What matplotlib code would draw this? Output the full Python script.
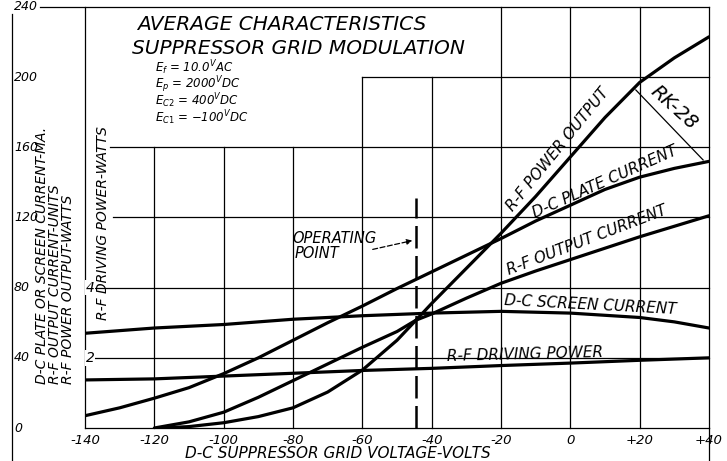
import numpy as np
import matplotlib
matplotlib.use("Agg")
import matplotlib.pyplot as plt

# --- data ---
# D-C plate current, ma
plate_v = [-140, -130, -120, -110, -100, -90, -80, -70, -60, -50, -40, -30, -20, -10, 0, 10, 20, 30, 40]
plate_ma = [7, 11.5, 17, 23, 31, 40, 50, 60, 69.5, 79.5, 89, 98.5, 108, 118, 127, 136, 143, 148, 152]

# R-F output current, units
rfi_v = [-120, -110, -100, -90, -80, -70, -60, -50, -44.5, -40, -30, -20, -10, 0, 10, 20, 30, 40]
rfi_units = [0, 3.5, 9, 17.5, 27, 36.5, 46, 55, 61.5, 65, 74, 82.5, 89.5, 96, 102.5, 109, 115, 121]

# R-F power output, watts
pwr_v = [-118, -110, -100, -90, -80, -70, -60, -50, -44.5, -40, -30, -20, -10, 0, 10, 20, 30, 40]
pwr_watts = [0, 0.8, 3, 6.5, 11.5, 20.5, 33, 50, 61.5, 71, 91, 111, 132, 154.5, 177, 197, 211, 223]

# D-C screen current, ma
scr_v = [-140, -120, -100, -80, -60, -40, -20, 0, 20, 30, 40]
scr_ma = [54, 57, 59, 62, 64, 65.5, 66.5, 65.5, 63, 60.5, 57]

# R-F driving power, watts (right hand scale, 2 W = 40 units)
drv_v = [-140, -120, -100, -80, -60, -40, -20, 0, 20, 40]
drv_watts = [1.37, 1.4, 1.48, 1.56, 1.64, 1.7, 1.78, 1.85, 1.93, 2.0]

op_point = -44.5

x_ticks = [-140, -120, -100, -80, -60, -40, -20, 0, 20, 40]
x_ticklabels = ["-140", "-120", "-100", "-80", "-60", "-40", "-20", "0", "+20", "+40"]
y_ticks = [0, 40, 80, 120, 160, 200, 240]
drv_ticks = [2, 4]

params = [r"$E_f$ = 10.0$^V$AC", r"$E_p$ = 2000$^V$DC",
          r"$E_{C2}$ = 400$^V$DC", r"$E_{C1}$ = $-$100$^V$DC"]

W, H = 727, 461


def px(x, y):
    # pixel position of the reference -> data coords
    return -140 + (x - 85) * 180 / 624, (428 - y) * 240 / 421


plt.rcParams['font.family'] = ['DejaVu Sans']
fig = plt.figure(figsize=(W / 100, H / 100), dpi=100)
ax = fig.add_axes([85 / W, 33 / H, 624 / W, 421 / H])
ax.set_xlim(-140, 40)
ax.set_ylim(0, 240)
ax.axis('off')

ital = dict(style='italic', color='black')
glw = 0.9

# grid, with the cut-out for the title block
for v in x_ticks:
    if v in (-120, -100, -80):
        top = 160
    elif v in (-60, -40):
        top = 200
    else:
        top = 240
    ax.plot([v, v], [0, top], color='black', lw=glw, clip_on=False)
ax.plot([40, 40], [0, px(0, 461)[1]], color='black', lw=glw, clip_on=False)

starts = {0: -140, 40: px(95, 0)[0], 80: px(95, 0)[0], 120: px(113, 0)[0],
          160: px(110, 0)[0], 200: -60, 240: px(40, 0)[0]}
for yv, x0 in starts.items():
    ax.plot([x0, 40], [yv, yv], color='black', lw=glw, clip_on=False)

# far left axis line
lx = px(12, 0)[0]
ax.plot([lx, lx], [px(0, 461)[1], px(0, 14)[1]], color='black', lw=glw, clip_on=False)

# curves
clw = 2.3
ax.plot(plate_v, plate_ma, color='black', lw=clw, solid_capstyle='round', solid_joinstyle='round')
ax.plot(rfi_v, rfi_units, color='black', lw=clw, solid_capstyle='round', solid_joinstyle='round')
ax.plot(pwr_v, pwr_watts, color='black', lw=clw, solid_capstyle='round', solid_joinstyle='round')
ax.plot(scr_v, scr_ma, color='black', lw=clw, solid_capstyle='round', solid_joinstyle='round')
ax.plot(drv_v, np.array(drv_watts) * 20, color='black', lw=clw, solid_capstyle='round',
        solid_joinstyle='round')

# operating point
ax.plot([op_point, op_point], [0, 131], color='black', lw=1.8, dashes=(9, 3))
ax.annotate("", xy=px(415, 240), xytext=px(370, 250),
            arrowprops=dict(arrowstyle='-|>', color='black', lw=0.9, linestyle=(0, (4, 2)),
                            mutation_scale=8))
ax.text(*px(292, 238), "OPERATING", fontsize=10.5, ha='left', va='center', **ital)
ax.text(*px(295, 253), "POINT", fontsize=10.5, ha='left', va='center', **ital)

# tick labels
for v, lab in zip(x_ticks, x_ticklabels):
    ax.text(v, px(0, 440)[1], lab, fontsize=9.5, ha='center', va='center', clip_on=False, **ital)
for yv in y_ticks:
    ax.text(px(14, 0)[0], yv, str(yv), fontsize=9, ha='left', va='center', clip_on=False, **ital)
for w in drv_ticks:
    ax.text(px(90, 0)[0], w * 20, str(w), fontsize=10, ha='center', va='center',
            bbox=dict(facecolor='white', edgecolor='none', pad=0.5), **ital)

# axis titles
ax.text(*px(338, 453), "D-C SUPPRESSOR GRID VOLTAGE-VOLTS", fontsize=11,
        ha='center', va='center', clip_on=False, **ital)
for xp, lab in [(42, "D-C PLATE OR SCREEN CURRENT-MA."),
                (55, "R-F OUTPUT CURRENT-UNITS"),
                (68, "R-F POWER OUTPUT-WATTS")]:
    ax.text(*px(xp, 384), lab, rotation=90, fontsize=10, ha='center', va='bottom',
            clip_on=False, **ital)
ax.text(*px(103, 320), "R-F DRIVING POWER-WATTS", rotation=90, fontsize=10,
        ha='center', va='bottom', **ital)

# title block
ax.text(*px(137, 24), "AVERAGE CHARACTERISTICS", fontsize=14.5, ha='left', va='center', **ital)
ax.text(*px(132, 48), "SUPPRESSOR GRID MODULATION", fontsize=14.5, ha='left', va='center', **ital)
for i, p in enumerate(params):
    ax.text(*px(155, 68 + i * 16.5), p, fontsize=8.5, ha='left', va='center', **ital)

# curve labels
ax.text(*px(558, 150), "R-F POWER OUTPUT", rotation=51, fontsize=11,
        ha='center', va='center', rotation_mode='anchor', **ital)
ax.text(*px(605, 182), "D-C PLATE CURRENT", rotation=24, fontsize=11,
        ha='center', va='center', rotation_mode='anchor', **ital)
ax.text(*px(587, 240), "R-F OUTPUT CURRENT", rotation=21, fontsize=11,
        ha='center', va='center', rotation_mode='anchor', **ital)
ax.text(*px(590, 305), "D-C SCREEN CURRENT", rotation=-3, fontsize=11,
        ha='center', va='center', rotation_mode='anchor', **ital)
ax.text(*px(525, 354), "R-F DRIVING POWER", rotation=1.5, fontsize=11,
        ha='center', va='center', rotation_mode='anchor', **ital)

# RK-28 tag
ax.plot([18.9, 38.3], [192.7, 152.8], color='black', lw=0.9)
ax.text(*px(674, 108), "RK-28", rotation=-42, fontsize=14, ha='center', va='center',
        rotation_mode='anchor', **ital)

fig.savefig("out.png", dpi=100, facecolor='white')
